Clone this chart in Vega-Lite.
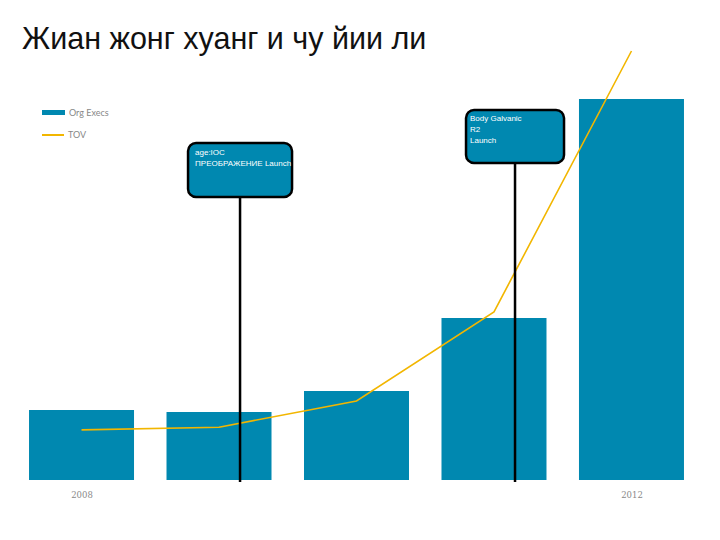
{
  "$schema": "https://vega.github.io/schema/vega-lite/v6.json",
  "width": 655,
  "height": 440,
  "autosize": {"type": "none"},
  "padding": {"left": 29, "top": 40, "right": 36, "bottom": 60},
  "background": "white",
  "title": {
    "text": "Жиан жонг хуанг и чу йии ли",
    "anchor": "start",
    "font": "Liberation Sans",
    "fontSize": 30.5,
    "fontWeight": "normal",
    "color": "#111111",
    "baseline": "alphabetic",
    "offset": 0,
    "dx": -7,
    "dy": 39
  },
  "config": {
    "view": {"stroke": null},
    "axis": {"grid": false}
  },
  "datasets": {
    "yearly": [
      {"year": 2008, "orgExecs": 15.9, "tov": 11.4},
      {"year": 2009, "orgExecs": 15.45, "tov": 12.0},
      {"year": 2010, "orgExecs": 20.2, "tov": 17.95},
      {"year": 2011, "orgExecs": 36.8, "tov": 38.2},
      {"year": 2012, "orgExecs": 86.6, "tov": 97.5}
    ],
    "events": [
      {"event": "age:IOC\nПРЕОБРАЖЕНИЕ Launch", "year": 2009.153, "level": 70.45, "box": "a"},
      {"event": "Body Galvanic\nR2\nLaunch", "year": 2011.153, "level": 78.07, "box": "b"}
    ]
  },
  "layer": [
    {
      "data": {"name": "yearly"},
      "mark": {"type": "bar", "size": 105, "orient": "vertical"},
      "encoding": {
        "x": {
          "field": "year", "type": "quantitative",
          "scale": {"domain": [2007.618, 2012.382], "nice": false, "zero": false, "padding": 0},
          "axis": {
            "values": [2008, 2012], "format": "d", "title": null,
            "domain": false, "ticks": false, "labelPadding": 10,
            "labelColor": "#888888", "labelFont": "DejaVu Serif", "labelFontSize": 8.5
          }
        },
        "y": {
          "field": "orgExecs", "type": "quantitative",
          "scale": {"domain": [0, 100], "nice": false},
          "axis": null
        },
        "fill": {
          "datum": "Org Execs",
          "scale": {"domain": ["Org Execs"], "range": ["#0088B0"]},
          "legend": {
            "orient": "none", "legendX": 12, "legendY": 60, "title": null,
            "symbolType": "M-1,-0.22H1V0.22H-1Z", "symbolSize": 529,
            "labelFont": "Lato", "labelFontSize": 9, "labelColor": "#888888", "labelOffset": 3
          }
        }
      }
    },
    {
      "data": {"name": "yearly"},
      "mark": {"type": "line", "strokeWidth": 1.6},
      "encoding": {
        "x": {"field": "year", "type": "quantitative"},
        "y": {"field": "tov", "type": "quantitative"},
        "stroke": {
          "datum": "TOV",
          "scale": {"domain": ["TOV"], "range": ["#F2B600"]},
          "legend": {
            "orient": "none", "legendX": 12, "legendY": 83, "title": null,
            "symbolType": "stroke", "symbolSize": 484, "symbolStrokeWidth": 2,
            "labelFont": "Lato", "labelFontSize": 9, "labelColor": "#888888", "labelOffset": 3
          }
        }
      }
    },
    {
      "data": {"name": "events"},
      "mark": {"type": "rule", "color": "#000000", "strokeWidth": 2.5},
      "encoding": {
        "x": {"field": "year", "type": "quantitative"},
        "y": {"field": "level", "type": "quantitative"},
        "y2": {"datum": -0.45}
      }
    },
    {
      "data": {"name": "events"},
      "transform": [{"filter": "datum.box == 'a'"}],
      "mark": {"type": "rect", "width": 104, "height": 54, "fill": "#0088B0", "stroke": "#000000", "strokeWidth": 2.5, "cornerRadius": 8},
      "encoding": {
        "x": {"field": "year", "type": "quantitative"},
        "y": {"field": "level", "type": "quantitative"}
      }
    },
    {
      "data": {"name": "events"},
      "transform": [{"filter": "datum.box == 'b'"}],
      "mark": {"type": "rect", "width": 98, "height": 53, "fill": "#0088B0", "stroke": "#000000", "strokeWidth": 2.5, "cornerRadius": 8},
      "encoding": {
        "x": {"field": "year", "type": "quantitative"},
        "y": {"field": "level", "type": "quantitative"}
      }
    },
    {
      "data": {"name": "events"},
      "mark": {"type": "text", "align": "left", "baseline": "top", "lineBreak": "\n", "lineHeight": 11, "xOffset": -45, "yOffset": -21, "color": "#FFFFFF", "font": "Liberation Sans", "fontSize": 8},
      "encoding": {
        "x": {"field": "year", "type": "quantitative"},
        "y": {"field": "level", "type": "quantitative"},
        "text": {"field": "event"}
      }
    }
  ]
}
